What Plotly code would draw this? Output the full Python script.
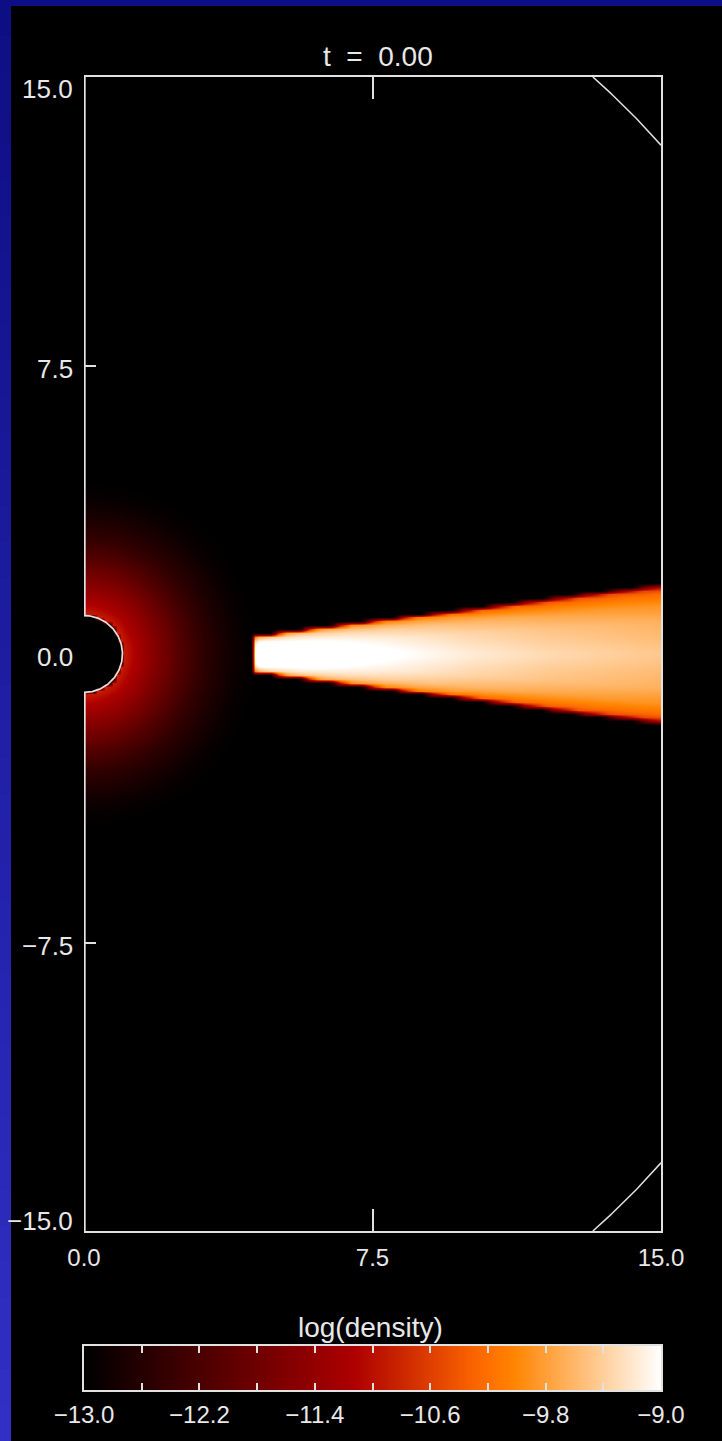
import numpy as np
import plotly.graph_objects as go

W, H = 722, 1441

# ---------------- text / ticks ----------------
TITLE = "t  =  0.00"
CB_TITLE = "log(density)"
X_RANGE = [0.0, 15.0]
Y_RANGE = [-15.0, 15.0]
X_TICKS = [0.0, 7.5, 15.0]
X_TICK_TEXT = ["0.0", "7.5", "15.0"]
Y_LABEL_VALUES = [15.0, 7.5, 0.0, -7.5, -15.0]
Y_LABEL_TEXT = ["15.0", "7.5", "0.0", "\u22127.5", "\u221215.0"]
Y_TICK_MARKS = [-7.5, 7.5]
CB_RANGE = [-13.0, -9.0]
CB_TICKS = [-13.0, -12.6, -12.2, -11.8, -11.4, -11.0, -10.6, -10.2, -9.8, -9.4, -9.0]
CB_TICK_TEXT = ["\u221213.0", "", "\u221212.2", "", "\u221211.4", "", "\u221210.6", "",
                "\u22129.8", "", "\u22129.0"]

# ---------------- geometry ----------------
INNER_R = 1.0     # stellar surface (semicircle)
OUTER_R = 20.0    # outer domain boundary (corner arcs)

# spherical atmosphere: log density vs radius
ATM_R = [1.0, 1.5, 2.0, 2.5, 3.0, 3.5, 4.0, 4.5]
ATM_LOGRHO = [-10.85, -11.3, -11.7, -12.1, -12.45, -12.7, -12.9, -13.0]

# disk: midplane log density and half thickness vs x
DISK_X = [4.45, 6.0, 8.0, 10.0, 12.0, 15.0]
DISK_MID_LOGRHO = [-8.6, -8.75, -8.95, -9.15, -9.3, -9.45]
DISK_HALF_H = [0.45, 0.64, 0.87, 1.11, 1.35, 1.71]
# vertical drop of log density vs |z| / half thickness
DISK_S = [0.0, 0.5, 0.75, 0.9, 1.0, 1.05, 1.1]
DISK_DROP = [0.0, 0.2, 0.45, 0.75, 1.1, 2.2, 4.5]
# softening of the inner disk edge vs distance from inner edge
EDGE_D = [-0.10, -0.05, 0.0, 0.08]
EDGE_DROP = [4.5, 1.5, 0.3, 0.0]
FLOOR = -13.0
CELL = 0.1

# ---------------- colour table (IDL red temperature) ----------------
COLORSCALE = [
    [0.0, "rgb(0,0,0)"],
    [0.4706, "rgb(174,0,0)"],
    [0.6902, "rgb(255,106,0)"],
    [0.7451, "rgb(255,132,0)"],
    [1.0, "rgb(255,255,255)"],
]

# ---------------- build field ----------------
xc = np.arange(X_RANGE[0] + CELL / 2, X_RANGE[1], CELL)
yc = np.arange(Y_RANGE[0] + CELL / 2, Y_RANGE[1], CELL)
XX, YY = np.meshgrid(xc, yc)
RR = np.hypot(XX, YY)
atm = np.interp(RR, ATM_R, ATM_LOGRHO, left=ATM_LOGRHO[0], right=FLOOR)
atm[RR < INNER_R] = FLOOR
mid = np.interp(XX, DISK_X, DISK_MID_LOGRHO)
hh = np.interp(XX, DISK_X, DISK_HALF_H)
drop = np.interp(np.abs(YY) / hh, DISK_S, DISK_DROP, right=10.0)
edge = np.interp(XX - DISK_X[0], EDGE_D, EDGE_DROP, left=10.0, right=0.0)
disk = mid - drop - edge
zz = np.round(np.maximum(np.maximum(atm, disk), FLOOR), 3)

LINE_C = "rgb(225,225,225)"
TEXT_C = "rgb(232,232,232)"
FONT = "Liberation Sans"

fig = go.Figure()
fig.add_trace(go.Heatmap(x=xc, y=yc, z=zz, zmin=CB_RANGE[0], zmax=CB_RANGE[1],
                         colorscale=COLORSCALE, showscale=False, zsmooth="best",
                         hoverinfo="skip", xaxis="x", yaxis="y"))

# left boundary: axis line interrupted by the stellar surface
fig.add_trace(go.Scatter(x=[0, 0, None, 0, 0], y=[Y_RANGE[1], INNER_R, None, -INNER_R, Y_RANGE[0]],
                         mode="lines", line=dict(color=LINE_C, width=3.4),
                         hoverinfo="skip", showlegend=False, xaxis="x", yaxis="y"))
th = np.linspace(-np.pi / 2, np.pi / 2, 121)
fig.add_trace(go.Scatter(x=INNER_R * np.cos(th), y=INNER_R * np.sin(th), mode="lines",
                         line=dict(color=LINE_C, width=1.7), hoverinfo="skip",
                         showlegend=False, xaxis="x", yaxis="y"))
# outer boundary arcs
th_lo = np.arccos(X_RANGE[1] / OUTER_R)
th_hi = np.arcsin(Y_RANGE[1] / OUTER_R)
for sgn in (1, -1):
    t = np.linspace(th_lo, th_hi, 30)
    fig.add_trace(go.Scatter(x=OUTER_R * np.cos(t), y=sgn * OUTER_R * np.sin(t), mode="lines",
                             line=dict(color=LINE_C, width=1.5), hoverinfo="skip",
                             showlegend=False, xaxis="x", yaxis="y2"))

# colour bar as its own heatmap
cb_x = np.linspace(CB_RANGE[0], CB_RANGE[1], 401)
fig.add_trace(go.Heatmap(x=cb_x, y=[0, 1], z=[cb_x, cb_x], zmin=CB_RANGE[0], zmax=CB_RANGE[1],
                         colorscale=COLORSCALE, showscale=False, hoverinfo="skip",
                         xaxis="x2", yaxis="y3"))

px = lambda v: v / W
py = lambda v: 1 - v / H
XD = [px(84), px(661)]

fig.update_layout(
    template="none",
    width=W, height=H, margin=dict(l=0, r=0, t=0, b=0, pad=0, autoexpand=False),
    paper_bgcolor="black", plot_bgcolor="black", showlegend=False,
    font=dict(family=FONT, color=TEXT_C),
    xaxis=dict(domain=XD, range=X_RANGE, anchor="y", showgrid=False, zeroline=False,
               automargin=False,
               showline=True, linecolor=LINE_C, linewidth=1.7, mirror="ticks",
               ticks="inside", ticklen=22, tickwidth=1.5, tickcolor=LINE_C,
               tickvals=X_TICKS, ticktext=X_TICK_TEXT, tickfont=dict(size=24, color=TEXT_C),
               ticklabelstandoff=4, fixedrange=True),
    yaxis=dict(domain=[py(1231), py(77)], range=Y_RANGE, anchor="x", showgrid=False,
               zeroline=False, showline=False, ticks="inside", ticklen=12, tickwidth=1.5,
               automargin=False,
               tickcolor=LINE_C, tickvals=Y_TICK_MARKS, showticklabels=False, fixedrange=True),
    yaxis2=dict(overlaying="y", side="right", anchor="x", range=Y_RANGE, showgrid=False,
                zeroline=False, showline=True, linecolor=LINE_C, linewidth=1.7,
                automargin=False,
                ticks="", showticklabels=False, fixedrange=True),
    xaxis2=dict(domain=XD, range=CB_RANGE, anchor="y3", showgrid=False, zeroline=False,
                automargin=False,
                showline=True, linecolor=LINE_C, linewidth=1.7, mirror="ticks",
                ticks="inside", ticklen=7, tickwidth=1.5, tickcolor=LINE_C,
                tickvals=CB_TICKS, ticktext=CB_TICK_TEXT, tickfont=dict(size=24, color=TEXT_C),
                ticklabelstandoff=2, fixedrange=True),
    yaxis3=dict(domain=[py(1390), py(1346)], range=[-0.5, 1.5], anchor="x2", showgrid=False,
                automargin=False,
                zeroline=False, showline=True, linecolor=LINE_C, linewidth=1.7, mirror=True,
                ticks="", showticklabels=False, fixedrange=True),
)

ann = [
    dict(text=TITLE, x=px(378), y=py(57), xref="paper", yref="paper", showarrow=False,
         xanchor="center", yanchor="middle", font=dict(size=28, color=TEXT_C)),
    dict(text=CB_TITLE, x=px(370), y=py(1327), xref="paper", yref="paper", showarrow=False,
         xanchor="center", yanchor="middle", font=dict(size=28, color=TEXT_C)),
]
Y_SHIFTS = {15.0: -12, -15.0: 10}
for v, txt in zip(Y_LABEL_VALUES, Y_LABEL_TEXT):
    ann.append(dict(text=txt, x=px(75), y=v, xref="paper", yref="y",
                    showarrow=False, xanchor="right", yanchor="middle",
                    yshift=Y_SHIFTS.get(v, -3), font=dict(size=26, color=TEXT_C)))
fig.update_layout(annotations=ann)

# blue frame of the slide (top strip and graded left strip)
shapes = []
N = 40
top_c = np.array([14, 14, 132])
bot_c = np.array([50, 48, 198])
ov = 1.0 / H
for i in range(N):
    f = (i + 0.5) / N
    c = top_c + (bot_c - top_c) * f
    shapes.append(dict(type="rect", xref="paper", yref="paper", x0=0, x1=px(11),
                       y0=max(0.0, 1 - (i + 1) / N - ov), y1=1 - i / N,
                       fillcolor="rgb(%d,%d,%d)" % tuple(c.astype(int)),
                       line=dict(width=0), layer="above"))
shapes.append(dict(type="rect", xref="paper", yref="paper", x0=0, x1=1, y0=py(6), y1=1,
                   fillcolor="rgb(13,13,133)", line=dict(width=0), layer="above"))
fig.update_layout(shapes=shapes)

fig.write_html("out.html")
